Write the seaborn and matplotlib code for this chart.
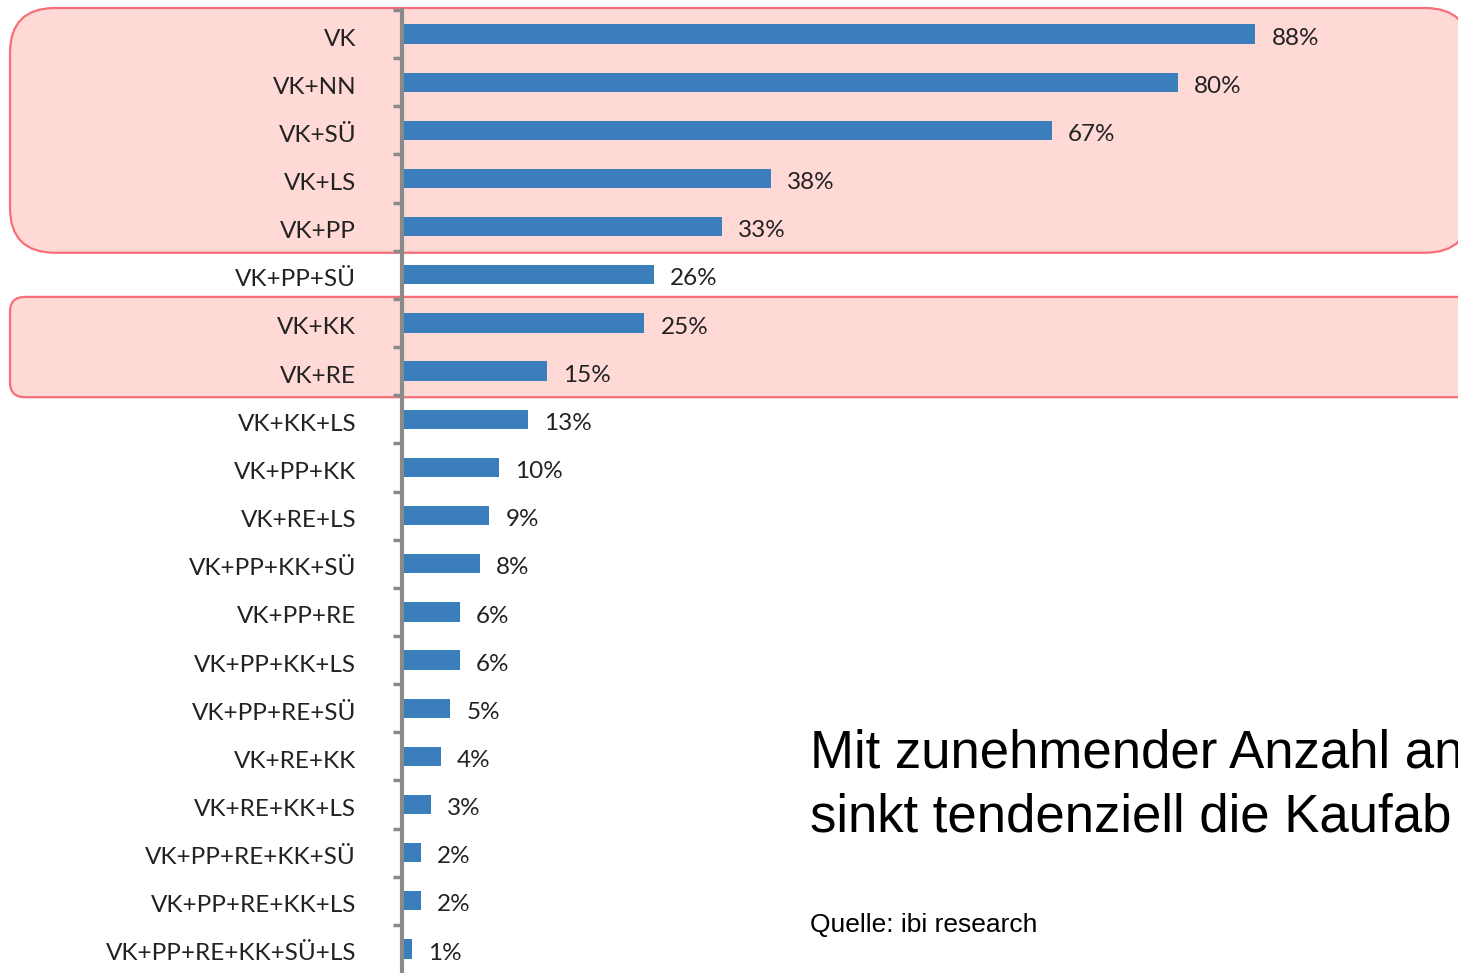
import matplotlib
matplotlib.use("Agg")
import matplotlib.pyplot as plt
import seaborn as sns
from matplotlib.patches import FancyBboxPatch
from matplotlib.transforms import IdentityTransform, ScaledTranslation

# Data
labels = [
    "VK", "VK+NN", "VK+SÜ", "VK+LS", "VK+PP", "VK+PP+SÜ", "VK+KK", "VK+RE",
    "VK+KK+LS", "VK+PP+KK", "VK+RE+LS", "VK+PP+KK+SÜ", "VK+PP+RE",
    "VK+PP+KK+LS", "VK+PP+RE+SÜ", "VK+RE+KK", "VK+RE+KK+LS",
    "VK+PP+RE+KK+SÜ", "VK+PP+RE+KK+LS", "VK+PP+RE+KK+SÜ+LS",
]
values = [88, 80, 67, 38, 33, 26, 25, 15, 13, 10, 9, 8, 6, 6, 5, 4, 3, 2, 2, 1]

# highlighted groups (first, last row index)
groups = [(0, 4), (6, 7)]

BAR_COLOR = "#3a7fbb"
BOX_FILL = "#fed9d6"
BOX_EDGE = "#f76e78"
AXIS_GRAY = "#8a8a8a"
TEXT_COLOR = "#222222"

sns.set_theme(style="white")
plt.rcParams["font.family"] = ["Lato", "DejaVu Sans"]
SANS = ["Liberation Sans", "DejaVu Sans"]

W, H = 1458, 973
fig = plt.figure(figsize=(W / 100, H / 100), dpi=100)
ax = fig.add_axes([402 / W, 0, (W - 402) / W, 963 / H])
ax.set_facecolor("none")

sns.barplot(x=values, y=labels, orient="h", color=BAR_COLOR, saturation=1,
            width=0.4, linewidth=0, ax=ax, zorder=3)

ax.set_xlim(0, (W - 404) / 9.68)
ax.set_ylim(len(labels) - 0.5, -0.5)
ax.set_xlabel("")
ax.set_ylabel("")
ax.set_xticks([])

for s in ["top", "right", "bottom"]:
    ax.spines[s].set_visible(False)
ax.spines["left"].set_color(AXIS_GRAY)
ax.spines["left"].set_linewidth(3)
ax.spines["left"].set_zorder(4)

ax.set_yticks(range(len(labels)))
ax.set_yticklabels(labels, fontsize=17.5, color=TEXT_COLOR)
ax.tick_params(axis="y", which="major", length=0, pad=33)
ax.set_yticks([i - 0.5 for i in range(len(labels))], minor=True)
ax.tick_params(axis="y", which="minor", length=6.5, width=2.5, color=AXIS_GRAY, left=True)

# category labels sit a little below the bar centre in the original
shift = ScaledTranslation(0, -3 / 100, fig.dpi_scale_trans)
for lab in ax.get_yticklabels():
    lab.set_transform(lab.get_transform() + shift)

for i, v in enumerate(values):
    ax.annotate(f"{v}%", (v, i), xytext=(11.5, -3), textcoords="offset points",
                va="center", ha="left", fontsize=17.5, color=TEXT_COLOR)

# pink rounded highlight boxes, in pixel coordinates
fig.canvas.draw()
for (a, b), radius, right in zip(groups, [45, 15], [1470, 1520]):
    y_top = ax.transData.transform((0, a - 0.5))[1] + 2
    y_bot = ax.transData.transform((0, b + 0.5))[1] - 2
    box = FancyBboxPatch((10, y_bot), right - 10, y_top - y_bot,
                         boxstyle=f"round,pad=0,rounding_size={radius}",
                         transform=IdentityTransform(), facecolor=BOX_FILL,
                         edgecolor=BOX_EDGE, linewidth=1.6, zorder=-1)
    fig.add_artist(box)

# headline runs off the right edge, as in the original slide crop
fig.text(810 / W, 1 - 767 / H, "Mit zunehmender Anzahl an", fontsize=38,
         family=SANS, color="black", va="baseline")
fig.text(810 / W, 1 - 831 / H, "sinkt tendenziell die Kaufab", fontsize=38,
         family=SANS, color="black", va="baseline")
fig.text(810 / W, 1 - 932 / H, "Quelle: ibi research", fontsize=19,
         family=SANS, color="black", va="baseline")

fig.savefig("out.png", dpi=100)
